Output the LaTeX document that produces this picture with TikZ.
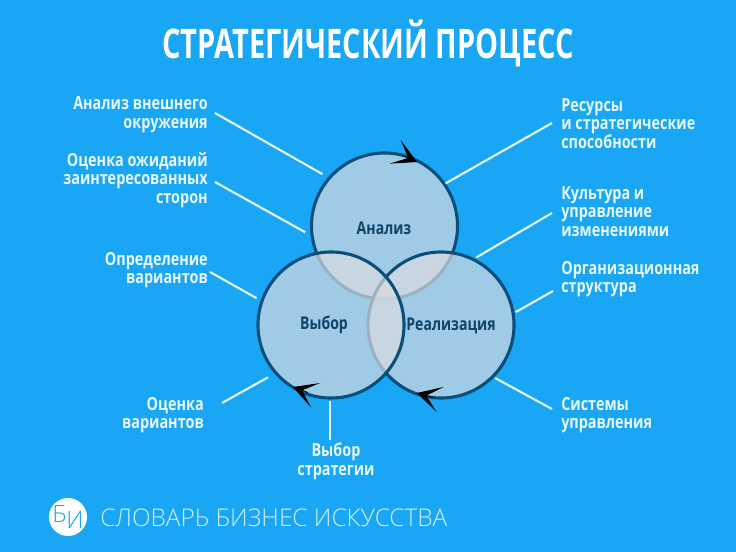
\documentclass[tikz,border=0pt]{standalone}
\usepackage{fontspec}
\setmainfont{Open Sans}
\newfontfamily\condfont[FakeStretch=0.8]{Open Sans}
\newfontfamily\titlefont[FakeStretch=0.71]{Open Sans}
\newfontfamily\lightfont{Open Sans Light}
\usetikzlibrary{
  arrows.meta,
  positioning
}
\definecolor{skyback}{HTML}{19A6F5}
\definecolor{ringline}{HTML}{0A4F7A}
\definecolor{ringfill}{RGB}{218,219,224}
\definecolor{palewhite}{HTML}{E6F7FF}
\definecolor{inktext}{HTML}{0D4468}
\definecolor{footcolor}{HTML}{CDEFFF}

\begin{document}
\begin{tikzpicture}[
  x=0.025cm, y=-0.025cm,
  ring/.style={
    circle, draw=ringline, line width=2.2pt, fill=ringfill, fill opacity=0.7,
    minimum size=3.65cm, inner sep=0pt, outer sep=0pt,
  },
  sidelabel/.style={
    text=palewhite, inner sep=0pt, font=\condfont\bfseries\fontsize{12.8}{13.3}\selectfont,
  },
  leftlabel/.style={sidelabel, anchor=east, align=right},
  rightlabel/.style={sidelabel, anchor=west, align=left},
  ringlabel/.style={
    text=inktext, inner sep=0pt, font=\condfont\bfseries\fontsize{12.5}{13.3}\selectfont,
  },
  leader/.style={draw=palewhite, line width=1.5pt},
  turn/.style={-{Stealth[length=6mm, width=6.5mm, inset=3.6mm]}, black, line width=0.6pt},
]

\fill[skyback] (0,0) rectangle (736,552);
\useasboundingbox (0,0) rectangle (736,552);

\node[text=white, inner sep=0pt, font=\titlefont\bfseries\fontsize{29}{32}\selectfont] (title) at (368,43) {СТРАТЕГИЧЕСКИЙ ПРОЦЕСС};

% circles
\node[ring] (analiz) at (384.5,226) {};
\node[ring] (realiz) at (441,325) {};
\node[ring] (vybor) at (331,325) {};

\node[ringlabel] (analiztext) at (384,228) {Анализ};
\node[ringlabel] (vybortext) at (324,325) {Выбор};
\node[ringlabel] (realiztext) at (451,326) {Реализация};

% left labels
\node[leftlabel] (envlabel) at (208,114.5) {Анализ внешнего\\окружения};
\node[leftlabel] (stakelabel) at (208,180) {Оценка ожиданий\\заинтересованных\\сторон};
\node[leftlabel] (optlabel) at (208,270) {Определение\\вариантов};
\node[leftlabel] (ratelabel) at (204,415) {Оценка\\вариантов};
\node[sidelabel, align=center] (choicelabel) at (336,461.5) {Выбор\\стратегии};

% right labels
\node[rightlabel] (reslabel) at (561,123.5) {Ресурсы\\и стратегические\\способности};
\node[rightlabel] (cultlabel) at (561,211.5) {Культура и\\управление\\изменениями};
\node[rightlabel] (orglabel) at (561,279) {Организационная\\структура};
\node[rightlabel] (syslabel) at (561,415) {Системы\\управления};

% leaders
\draw[leader, shorten >=5.7pt] ([shift={(7,-1.5)}]envlabel.east) -- (analiz.139);
\draw[leader, shorten >=5.7pt] ([shift={(7,2)}]stakelabel.east) -- (analiz.188);
\draw[leader, shorten >=4.3pt] ([shift={(2,2)}]optlabel.east) -- (vybor.161);
\draw[leader, shorten >=6.4pt] ([shift={(18,-12)}]ratelabel.east) -- (vybor.221);
\draw[leader, shorten >=2.1pt] ([yshift=2pt]choicelabel.north -| vybor.269) -- (vybor.269);
\draw[leader, shorten >=1pt] ([shift={(-9,-0.5)}]reslabel.west) -- (analiz.35);
\draw[leader, shorten >=2.8pt] ([shift={(-9,1.5)}]cultlabel.west) -- (realiz.64);
\draw[leader, shorten >=2.1pt] ([shift={(-8,12)}]orglabel.west) -- (realiz.9);
\draw[leader, shorten >=2.1pt] ([shift={(-9,-6)}]syslabel.west) -- (realiz.-45);

% arrow marks
\coordinate (turnA) at (402,155);
\coordinate (turnAend) at (417,162);
\coordinate (turnB) at (308,392.5);
\coordinate (turnBend) at (293,387);
\coordinate (turnC) at (433,397.5);
\coordinate (turnCend) at (417,393);
\draw[turn] (turnA) -- (turnAend);
\draw[turn] (turnB) -- (turnBend);
\draw[turn] (turnC) -- (turnCend);

% footer
\node[circle, fill=white, minimum size=0.95cm, inner sep=0pt, text=skyback, font=\lightfont\fontsize{17}{18}\selectfont] (logo) at (68,517) {\makebox[0pt]{Б\raisebox{-4.5pt}{И}}};
\node[text=footcolor, inner sep=0pt, anchor=west, font=\lightfont\fontsize{17.35}{20}\selectfont] (foot) at (100,518) {СЛОВАРЬ БИЗНЕС ИСКУССТВА};

\end{tikzpicture}
\end{document}
